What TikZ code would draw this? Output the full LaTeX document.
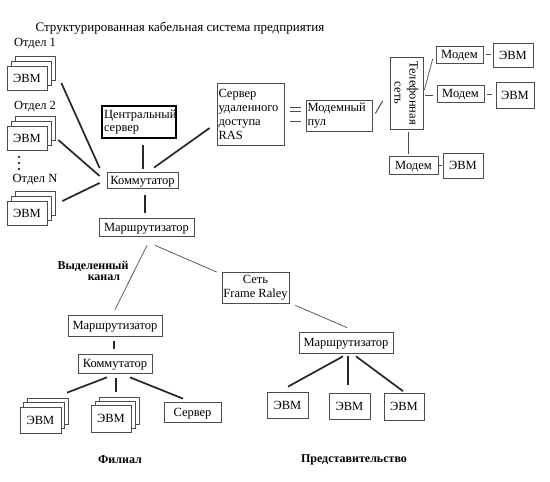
\documentclass[tikz,border=0pt]{standalone}
\usepackage{fontspec}
\setmainfont{Liberation Serif}
\usetikzlibrary{calc}
\tikzset{
  box/.style={draw=black!70, line width=0.7pt, fill=white, inner sep=1pt, font=\fontsize{12.5}{14}\selectfont},
  sbox/.style={box, text height=8.5pt, text depth=0.5pt},
  lbl/.style={inner sep=0pt, font=\fontsize{12.5}{14}\selectfont},
  blbl/.style={inner sep=0pt, font=\fontsize{12}{12.5}\selectfont\bfseries},
  thickline/.style={line width=1.7pt, black!85},
  thinline/.style={line width=0.7pt, black!70},
}
\begin{document}
\begin{tikzpicture}[x=1pt,y=-1pt]
\useasboundingbox (0,0) rectangle (550,482);
% title
\node[lbl, font=\fontsize{13}{14}\selectfont] (title) at (180,28) {Структурированная кабельная система предприятия};
% departments
\node[lbl] (otd1) at (35,44) {Отдел 1};
\node[lbl] (otd2) at (35,107) {Отдел 2};
\node[lbl] (otdN) at (35,180) {Отдел N};
\foreach \n/\y in {evm1/78, evm2/138, evm3/213}{
  \node[sbox, minimum width=40, minimum height=24] (\n c) at (35,\y-10) {};
  \node[sbox, minimum width=40, minimum height=24] (\n b) at (31,\y-5) {};
  \node[sbox, minimum width=40, minimum height=24] (\n) at (27,\y) {ЭВМ};
}
\fill[black!80] (19,157) circle (1.4) (19,163) circle (1.4) (19,169) circle (1.4);
% central part
\node[box, line width=1.7pt, draw=black, minimum width=74, minimum height=32, text width=70, align=left, inner sep=2pt, font=\fontsize{12.5}{13}\selectfont] (cs) at (139,122) {Центральный\\сервер};
\node[sbox, minimum width=71, minimum height=16] (komm) at (142.5,180) {Коммутатор};
\node[sbox, minimum width=95, minimum height=18] (marsh1) at (146.5,227) {Маршрутизатор};
\node[box, minimum width=67, minimum height=62, text width=64, align=left, inner sep=1.5pt] (ras) at (250.5,114) {Сервер\\удаленного\\доступа\\RAS};
\node[box, minimum width=66, minimum height=31, text width=63, align=left, inner sep=1.5pt] (modpul) at (339,116) {Модемный\\пул};
\node[box, minimum width=33, minimum height=72] (tel) at (406.5,93) {};
\node[inner sep=0pt, rotate=-90, align=center, font=\fontsize{12.5}{15}\selectfont] (teltxt) at (tel.center) {Телефонная\\сеть};
\node[sbox, minimum width=47, minimum height=17] (mod1) at (459.5,54.5) {Модем};
\node[sbox, minimum width=40, minimum height=24] (evmR1) at (513,55) {ЭВМ};
\node[sbox, minimum width=47, minimum height=17] (mod2) at (460.5,93.5) {Модем};
\node[sbox, minimum width=38, minimum height=26] (evmR2) at (515,95) {ЭВМ};
\node[sbox, minimum width=49, minimum height=18] (mod3) at (413.5,165) {Модем};
\node[sbox, minimum width=40, minimum height=25] (evmR3) at (463,165.5) {ЭВМ};
% branch
\node[blbl] (vyd1) at (93,266) {Выделенный};
\node[blbl] (vyd2) at (104,278) {канал};
\node[box, minimum width=67, minimum height=31, align=center, inner sep=1pt] (frame) at (255.5,287.5) {Сеть\\Frame Raley};
\node[sbox, minimum width=94, minimum height=21] (marsh2) at (115,325.5) {Маршрутизатор};
\node[sbox, minimum width=74, minimum height=19] (komm2) at (115,363.5) {Коммутатор};
\node[sbox, minimum width=41, minimum height=26] (evmF1c) at (47.5,411) {};
\node[sbox, minimum width=41, minimum height=26] (evmF1b) at (44,415.5) {};
\node[sbox, minimum width=41, minimum height=26] (evmF1) at (40.5,420) {ЭВМ};
\node[sbox, minimum width=40, minimum height=27] (evmF2c) at (119,410.5) {};
\node[sbox, minimum width=40, minimum height=27] (evmF2b) at (115,414.5) {};
\node[sbox, minimum width=40, minimum height=27] (evmF2) at (111,418.5) {ЭВМ};
\node[sbox, minimum width=57, minimum height=20] (server) at (192.5,412) {Сервер};
\node[blbl] (filial) at (120,460) {Филиал};
% representative office
\node[sbox, minimum width=94, minimum height=21] (marsh3) at (346,342.5) {Маршрутизатор};
\node[sbox, minimum width=41, minimum height=26] (evmP1) at (287.5,405) {ЭВМ};
\node[sbox, minimum width=41, minimum height=26] (evmP2) at (349.5,406) {ЭВМ};
\node[sbox, minimum width=40, minimum height=27] (evmP3) at (404,406.5) {ЭВМ};
\node[blbl] (predst) at (354,460) {Представительство};
% thick connectors
\draw[thickline] ($(evm1.east)+(14,5)$) -- ($(komm.west)+(-7,-12)$);
\draw[thickline] ($(evm2.east)+(11,2)$) -- ($(komm.west)+(-7,-4)$);
\draw[thickline] ($(evm3.east)+(15,-12)$) -- ($(komm.west)+(-7,3)$);
\draw[thickline] ($(cs.south)+(4,6)$) -- ($(komm.north)+(0.5,-3)$);
\draw[thickline] ($(ras.west)+(-7,14)$) -- ($(komm.north)+(11.5,-4)$);
\draw[thickline] ($(komm.south)+(2.5,7)$) -- ($(marsh1.north)+(-1.5,-5)$);
\draw[thickline] ($(marsh2.south)+(-1,5)$) -- ($(komm2.north)+(-1,-5)$);
\draw[thickline] ($(komm2.south)+(-8,4)$) -- ($(evmF1.north)+(26.5,-14)$);
\draw[thickline] ($(komm2.south)+(1,5)$) -- ($(evmF2.north)+(5,-12.5)$);
\draw[thickline] ($(komm2.south)+(15,4)$) -- ($(server.north)+(-9.5,-3)$);
\draw[thickline] ($(marsh3.south)+(-3,3)$) -- ($(evmP1.north)+(0.5,-5)$);
\draw[thickline] ($(marsh3.south)+(2,3)$) -- ($(evmP2.north)+(-1.5,-8)$);
\draw[thickline] ($(marsh3.south)+(10,3)$) -- ($(evmP3.north)+(-1,-1.5)$);
% thin connectors
\draw[thinline] ($(marsh1.south)+(0.5,9)$) -- ($(marsh2.north)+(0,-5)$);
\draw[thinline] ($(marsh1.south)+(8.5,9)$) -- ($(frame.west)+(-5,-15.5)$);
\draw[thinline] ($(frame.south east)+(6,2)$) -- ($(marsh3.north)+(1,-4)$);
\draw[thinline] ($(ras.east)+(6,-7)$) -- ($(modpul.west)+(-5,-9)$);
\draw[thinline] ($(ras.east)+(6,-3)$) -- ($(modpul.west)+(-5,-5)$);
\draw[thinline] ($(ras.east)+(6,7)$) -- ($(modpul.west)+(-5,5)$);
\draw[thinline, line width=1pt] ($(modpul.east)+(3,-2.5)$) -- ($(tel.west)+(-7,8)$);
\draw[thinline] ($(tel.east)+(1,-3)$) -- ($(mod1.west)+(-3,4.5)$);
\draw[thinline] ($(tel.east)+(2,2)$) -- ($(mod2.west)+(-4,1.5)$);
\draw[thinline] ($(tel.south)+(1.5,3)$) -- ($(mod3.north)+(-5.5,-2)$);
\draw[thinline] ($(mod1.east)+(3,-0.5)$) -- ($(evmR1.west)+(-2,-1)$);
\draw[thinline] ($(mod2.east)+(3,0.5)$) -- ($(evmR2.west)+(-4,-1)$);
\draw[thinline] ($(mod3.east)+(1,0)$) -- ($(evmR3.west)+(-1,-0.5)$);
\end{tikzpicture}
\end{document}
